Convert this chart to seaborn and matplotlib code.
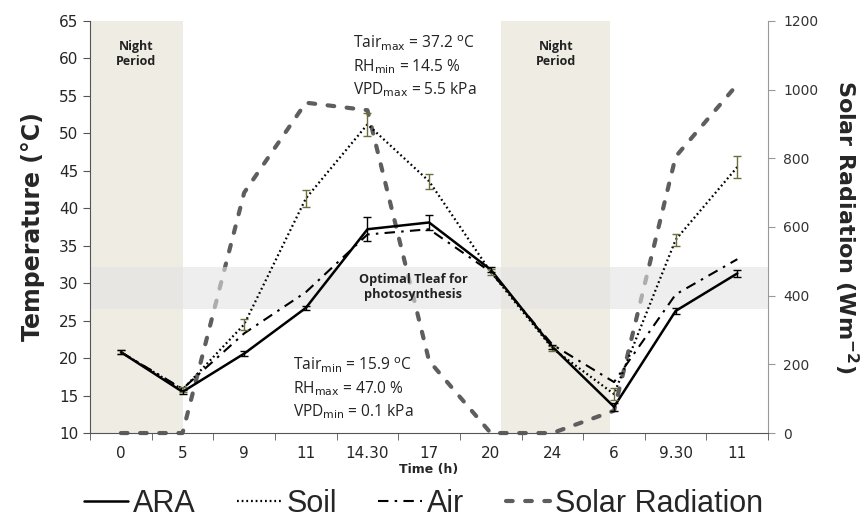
import numpy as np
import pandas as pd
import seaborn as sns
import matplotlib
matplotlib.use("Agg")
import matplotlib.pyplot as plt
from matplotlib.lines import Line2D

times = ["0", "5", "9", "11", "14.30", "17", "20", "24", "6", "9.30", "11"]
ara = [20.8, 15.5, 20.6, 26.7, 37.2, 38.1, 31.8, 21.5, 13.5, 26.3, 31.3]
ara_err = [0.3, 0.3, 0.3, 0.3, 1.6, 1.0, 0.3, 0.3, 0.5, 0.4, 0.5]
soil = [20.8, 15.8, 24.5, 41.3, 51.2, 43.6, 31.5, 21.3, 15.2, 35.8, 45.5]
soil_err = [0.3, 0.3, 0.7, 1.2, 1.5, 1.0, 0.4, 0.3, 0.8, 0.8, 1.5]
air = [20.8, 15.9, 23.3, 28.8, 36.5, 37.2, 31.5, 21.8, 16.8, 28.5, 33.2]
solar = [0, 0, 700, 962, 940, 210, 0, 0, 65, 805, 1015]

x = np.arange(len(times))
df = pd.DataFrame({"pos": x, "ARA": ara, "Soil": soil, "Air": air, "Solar": solar})

sns.set_style("white")
plt.rcParams["font.family"] = ["DejaVu Sans"]

fig = plt.figure(figsize=(8.66, 5.23), dpi=100)
ax = fig.add_axes([0.104, 0.172, 0.783, 0.788])
ax2 = ax.twinx()
ax.set_zorder(2)
ax.patch.set_visible(False)

# background shading
ax2.axvspan(-0.5, 1.0, color="#efece4", zorder=0, lw=0)
ax2.axvspan(6.17, 7.93, color="#efece4", zorder=0, lw=0)

solar_dash = [1.6, 3.0]
sns.lineplot(data=df, x="pos", y="Solar", ax=ax2, color="#5e5e5e", lw=3.0,
             sort=False, legend=False)
sl = ax2.lines[-1]
sl.set_dashes(solar_dash)
sl.set_dash_capstyle("round")
sl.set_clip_on(False)
ax2.set_ylim(0, 1200)
ax2.set_yticks(range(0, 1201, 200))
ax2.set_ylabel("Solar Radiation (Wm$^{\\mathbf{-2}}$)", rotation=270, labelpad=30,
               fontsize=16, fontweight="bold")

ax.axhspan(26.5, 32.2, color="#e3e3e3", alpha=0.6, lw=0, zorder=0)

dot_ls = (0, (0.8, 1.3))
dd_ls = (0, (5, 3, 1.2, 3))
sns.lineplot(data=df, x="pos", y="Soil", ax=ax, color="black", lw=1.6, sort=False, legend=False)
ax.lines[-1].set_linestyle(dot_ls)
sns.lineplot(data=df, x="pos", y="Air", ax=ax, color="black", lw=1.5, sort=False, legend=False)
ax.lines[-1].set_linestyle(dd_ls)
sns.lineplot(data=df, x="pos", y="ARA", ax=ax, color="black", lw=1.8, sort=False, legend=False)

ax.errorbar(x, soil, yerr=soil_err, fmt="none", ecolor="#6e6e3c", elinewidth=1, capsize=3)
ax.errorbar(x, ara, yerr=ara_err, fmt="none", ecolor="black", elinewidth=1, capsize=3)

ax.set_xlim(-0.5, len(times) - 0.5)
ax.set_ylim(10, 65)
ax.set_yticks(range(10, 66, 5))
ax.set_xticks(x)
ax.set_xticklabels(times)
ax.set_xticks(np.arange(-0.5, len(times), 1), minor=True)
ax.tick_params(axis="x", which="major", length=0, labelsize=11, pad=9)
ax.tick_params(axis="x", which="minor", length=5, direction="out", color="#555555", bottom=True)
ax.tick_params(axis="y", length=5, direction="out", color="#555555", labelsize=11, left=True)
ax2.tick_params(axis="y", length=5, direction="out", color="#999999", labelsize=10, right=True,
                labelcolor="#333333", pad=6)
ax.set_xlabel("Time (h)", fontsize=9, fontweight="bold", labelpad=2)
ax.set_ylabel("Temperature (\u00b0C)", fontsize=17, fontweight="bold", labelpad=10)

for a in (ax, ax2):
    a.spines["top"].set_visible(False)
ax.spines["right"].set_visible(False)
ax.spines["left"].set_color("#555555")
ax.spines["bottom"].set_color("#555555")
ax2.spines["right"].set_color("#999999")
ax2.spines["left"].set_visible(False)
ax2.spines["bottom"].set_visible(False)

tf = ["Open Sans", "DejaVu Sans"]
for xp in (0.25, 7.06):
    ax.text(xp, 60.6, "Night\nPeriod", ha="center", va="center", fontsize=9,
            fontweight="bold", family=tf, linespacing=1.25, color="#222222")
ax.text(3.77, 58.9, "Tair$_{\\rm max}$ = 37.2 $^{\\rm o}$C\nRH$_{\\rm min}$ = 14.5 %\nVPD$_{\\rm max}$ = 5.5 kPa",
        ha="left", va="center", fontsize=11.2, family=tf, linespacing=1.3, color="#222222")
ax.text(2.79, 16.0, "Tair$_{\\rm min}$ = 15.9 $^{\\rm o}$C\nRH$_{\\rm max}$ = 47.0 %\nVPD$_{\\rm min}$ = 0.1 kPa",
        ha="left", va="center", fontsize=11.2, family=tf, linespacing=1.3, color="#222222")
ax.text(4.74, 29.5, "Optimal Tleaf for\nphotosynthesis", ha="center", va="center", fontsize=9.2,
        fontweight="bold", family=tf, linespacing=1.25, color="#222222")

handles = [
    Line2D([], [], color="black", lw=1.8),
    Line2D([], [], color="black", lw=1.6, linestyle=dot_ls),
    Line2D([], [], color="black", lw=1.5, linestyle=dd_ls),
    Line2D([], [], color="#5e5e5e", lw=3.0, dashes=solar_dash, dash_capstyle="round"),
]
fig.legend(handles, ["ARA", "Soil", "Air", "Solar Radiation"], loc="center",
           bbox_to_anchor=(0.489, 0.036), ncol=4, frameon=False,
           prop={"family": "Liberation Sans", "size": 22},
           handlelength=1.45, handletextpad=0.16, columnspacing=1.35)

fig.savefig("out.png", dpi=100)
